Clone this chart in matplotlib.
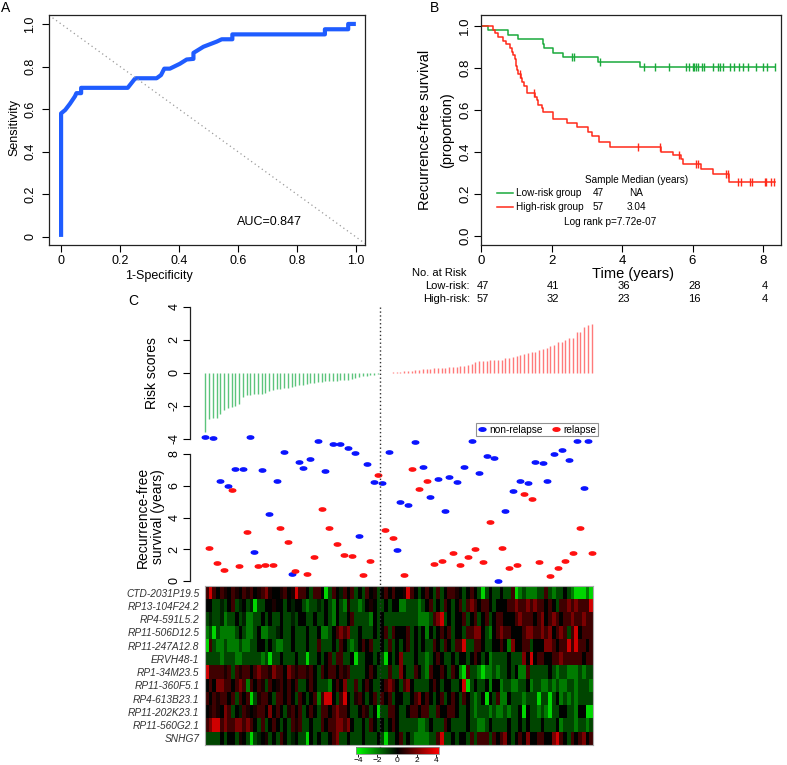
import numpy as np
import matplotlib
matplotlib.use('Agg')
import matplotlib.pyplot as plt
import matplotlib.transforms as mtransforms
from matplotlib.path import Path
from matplotlib.lines import Line2D
from matplotlib.colors import LinearSegmentedColormap, Normalize
from matplotlib.cm import ScalarMappable

plt.rcParams['font.family'] = ['Liberation Sans', 'DejaVu Sans']

# ---------------- data ----------------
# A : ROC
roc_fpr = [0, 0, 0.014, 0.03, 0.047, 0.052, 0.068, 0.068, 0.226, 0.25, 0.254, 0.324, 0.339, 0.35,
           0.369, 0.403, 0.426, 0.449, 0.449, 0.483, 0.528, 0.545, 0.581, 0.581, 0.895, 0.895,
           0.974, 0.974, 1.0]
roc_tpr = [0, 0.58, 0.596, 0.625, 0.66, 0.675, 0.675, 0.70, 0.70, 0.742, 0.745, 0.745, 0.76, 0.79,
           0.79, 0.813, 0.833, 0.836, 0.864, 0.893, 0.917, 0.928, 0.928, 0.951, 0.951, 0.975,
           0.975, 1.0, 1.0]
auc_txt = 'AUC=0.847'

# B : Kaplan-Meier
low_t = [0, 0.21, 0.78, 1.06, 1.75, 1.80, 2.03, 2.34, 3.33, 4.51]
low_s = [1.0, 0.979, 0.957, 0.936, 0.915, 0.894, 0.872, 0.851, 0.829, 0.806]
low_end = 8.34
low_cens = [2.57, 2.64, 3.38, 4.63, 4.94, 5.34, 5.82, 5.91, 6.0, 6.05, 6.1, 6.16, 6.26, 6.33,
            6.57, 6.71, 6.78, 6.86, 7.05, 7.19, 7.33, 7.44, 7.57, 7.8, 8.01, 8.1, 8.34]
high_t = [0, 0.33, 0.40, 0.47, 0.63, 0.71, 0.82, 0.87, 0.92, 0.97, 1.00, 1.02, 1.04, 1.13, 1.17,
          1.22, 1.30, 1.53, 1.58, 1.63, 1.72, 1.75, 2.05, 2.43, 2.71, 3.04, 3.14, 3.35, 3.66,
          5.12, 5.44, 5.67, 5.74, 6.24, 6.59, 7.04]
high_s = [1.0, 0.982, 0.965, 0.947, 0.93, 0.912, 0.895, 0.877, 0.86, 0.842, 0.807, 0.79, 0.772,
          0.754, 0.735, 0.716, 0.683, 0.663, 0.648, 0.625, 0.608, 0.59, 0.556, 0.537, 0.517,
          0.497, 0.476, 0.445, 0.425, 0.402, 0.386, 0.365, 0.343, 0.318, 0.295, 0.259]
high_end = 8.34
high_cens = [1.12, 1.5, 4.46, 5.08, 5.62, 6.1, 6.15, 6.95, 7.0, 7.28, 7.38, 7.62, 7.68,
             8.05, 8.09, 8.22, 8.3]
risk_times = [0, 2, 4, 6, 8]
risk_low = [47, 41, 36, 28, 4]
risk_high = [57, 32, 23, 16, 4]

# C : risk scores (47 low, 57 high)
score_low = [-3.55, -2.78, -2.75, -2.72, -2.5, -2.25, -2.15, -2.05, -2.0, -1.85, -1.45, -1.35,
             -1.33, -1.3, -1.28, -1.25, -1.2, -1.12, -1.05, -1.0, -0.95, -0.9, -0.88, -0.85,
             -0.8, -0.75, -0.7, -0.65, -0.6, -0.58, -0.55, -0.53, -0.5, -0.5, -0.48, -0.47,
             -0.45, -0.43, -0.4, -0.35, -0.28, -0.22, -0.2, -0.18, -0.15, -0.12, -0.08]
score_high = [0.01, 0.02, 0.02, 0.04, 0.06, 0.08, 0.1, 0.12, 0.14, 0.16, 0.18, 0.22, 0.24, 0.26,
              0.28, 0.3, 0.32, 0.33, 0.34, 0.36, 0.36, 0.4, 0.44, 0.48, 0.56, 0.68, 0.7, 0.72,
              0.74, 0.76, 0.76, 0.76, 0.78, 0.88, 0.9, 0.94, 1.0, 1.1, 1.14, 1.24, 1.28, 1.3,
              1.42, 1.46, 1.5, 1.64, 1.7, 1.86, 1.9, 1.98, 2.1, 2.14, 2.46, 2.5, 2.8, 2.88, 2.98]

rfs_years = [9.07, 2.08, 9.0, 1.14, 6.27, 0.72, 5.97, 5.74, 7.05, 0.97, 7.07, 3.07, 9.05, 1.85,
             0.93, 7.0, 1.03, 4.2, 1.01, 6.31, 3.37, 8.12, 2.46, 0.44, 0.61, 7.49, 7.09, 0.44,
             7.68, 1.54, 8.79, 4.52, 6.92, 3.37, 8.6, 2.33, 8.6, 1.66, 8.35, 1.6, 8.06, 2.84,
             0.38, 7.36, 1.28, 6.23, 6.65,
             6.16, 3.22, 8.12, 2.71, 1.96, 5.0, 0.36, 4.77, 7.07, 8.75, 5.78, 7.19, 6.29, 5.32,
             1.09, 6.41, 1.24, 4.44, 6.54, 1.77, 6.23, 1.03, 7.17, 1.54, 8.81, 2.02, 6.83, 1.2,
             7.89, 3.7, 7.72, 0.02, 2.1, 4.42, 0.8, 5.68, 1.03, 6.33, 5.49, 6.16, 5.15, 7.49,
             1.2, 7.43, 6.27, 0.29, 7.98, 0.84, 8.24, 1.24, 7.65, 1.77, 8.79, 3.35, 5.87, 8.83,
             1.79]
relapse = [0, 1, 0, 1, 0, 1, 0, 1, 0, 1, 0, 1, 0, 0, 1, 0, 1, 0, 1, 0, 1, 0, 1, 0, 1, 0, 0, 1,
           0, 1, 0, 1, 0, 1, 0, 1, 0, 1, 0, 1, 0, 0, 1, 0, 1, 0, 1,
           0, 1, 0, 1, 0, 0, 1, 0, 1, 0, 1, 0, 1, 0, 1, 0, 1, 0, 0, 1, 0, 1, 0, 1, 0, 1, 0, 1,
           0, 1, 0, 0, 1, 0, 1, 0, 1, 0, 1, 0, 1, 0, 1, 0, 0, 1, 0, 1, 0, 1, 0, 1, 0, 1, 0, 0,
           1]

genes = ['CTD-2031P19.5', 'RP13-104F24.2', 'RP4-591L5.2', 'RP11-506D12.5', 'RP11-247A12.8',
         'ERVH48-1', 'RP1-34M23.5', 'RP11-360F5.1', 'RP4-613B23.1', 'RP11-202K23.1',
         'RP11-560G2.1', 'SNHG7']
# expression levels read column by column (G bright green ... R bright red)
level = {'G': -3.5, 'g': -2.0, 'h': -1.1, 'k': -0.5, '0': 0.0, 'm': 0.5, 's': 1.1, 'r': 2.1, 'R': 3.5}
expr_rows = [
    "sRs0sm0sm0sms0msrm00ms0mRs" "s0hss0Ghs0ks0sh0hs0mh0s0s0" "0mRs0h0s0hsh0ssm0h0s0hGh0h" "h0hhsGghggghhshghh0hgGGGgG",
    "00hhkh0shk0hkGhh00m00h0k00" "hghhkh0hg0hgmhhgh0m0hh0h00" "gghhhgh0sh0hs0h0shsrs0ss0h" "000ssrssrsrss0s0hssrsrsssR",
    "hkhhkghh0hkgghh0h0hh0hhkh0" "0hh0hh0hg0hh0shhhhg0h0hhhh" "hhhhhggghsrRh0h00sh0sh0sh0" "ss000srsss0sr0srs0ssrssrss",
    "ghGhggggh0hggh0gghhk0hh0hh" "h0hh0ggh0srsrhh0hhh0h0shs0" "00sh0h0g0h0s0sh00hssrr0hg0" "srss000srrssrsr0srshsR0sss",
    "Gshgghggghgghh00h0hgghh0hh" "h0hhshhh0hs0hgh0s0shh0hsh0" "h0sh0h0hhs0hs0hssRhhss0hh0" "0s0gr00ssh000rrs0ssRsRss0s",
    "hhhhghhhgghhhhhghGhh0hhh0h" "hGhh0h0shsshh0Ghh00h0hG0h0" "rhhh0hhgh0s0hh0h00h0s0h0gh" "hhh0hhhr0R0ss00ssrsssss0ss",
    "Rssssmshsmss0srssmrss0rsms" "sms0hs0ss0smshhhh0s0hhhshh" "r0hhs0hgs00s0hs0gGshhgGggh" "ghh0h0ggshhhhh0hghhggghghh",
    "0s0rrss0srsgs0smhs0ms0s0sh" "h0s0hhhg0s0rhhsh0s0hh0srs0" "hsr0hhhh0s0h00hh0RGh0hh0g0" "0ghhgghh0ghhgghghgghhghhhg",
    "s0smss0shs0sGhmss0hss0s0hs" "0h0sgsRR0hsR0hms0h0shs0sh0" "0hh0sr0s0h0sh0s0hs0hgh0G0h" "sgg0hhhghhhGhhGh0ghghghhhh",
    "0msm0rsh0ksm0mss0r0s0hms0s" "h0s0hss0srss0hh0smh0Ghhss0" "hh0ss0sshhs00ss0hh0hghhhgh" "gghghh0G0hhghgGhh00hhg00GG",
    "srRRsrssrrsrs0hsh0s0h0hsms" "hh0hhs0ssrrsr0hh0hs0h0h0s0" "hhhhhggh0hhhs0hhhh0hhggh0h" "hhh0hh0h0hhh0hhh0ghhhghhgh",
    "hhhh0h00hm0hGhk0mh0hs0hk0h" "hG0h0hh0srhh0hhh0hhh0hGhh0" "sh0hgggghhsRhh0h00hshssshs" "0sr0h0s0r00ss00rRs0hs0sr0s",
]

# ---------------- figure ----------------
W, H = 787, 765
fig = plt.figure(figsize=(W / 100, H / 100), dpi=100)


def box(x0, y0, x1, y1):
    return [x0 / W, 1 - y1 / H, (x1 - x0) / W, (y1 - y0) / H]


def fx(x):
    return x / W


def fy(y):
    return 1 - y / H


def r_style(ax, rot_y=True):
    ax.tick_params(direction='out', length=5, width=0.8, labelsize=9, pad=2)
    for s in ax.spines.values():
        s.set_linewidth(0.9)
        s.set_color('#222222')
    if rot_y:
        for lab in ax.get_yticklabels():
            lab.set_rotation(90)
            lab.set_va('center')


# ---- A ----
axA = fig.add_axes(box(49, 15, 365, 245))
axA.plot(roc_fpr, roc_tpr, color='#1f5cff', lw=3, solid_joinstyle='round', solid_capstyle='butt')
axA.axline((0, 1), slope=-1, color='#9a9a9a', ls=(0, (1, 2.5)), lw=0.9)
axA.set_xlim(-0.041, 1.031)
axA.set_ylim(-0.038, 1.042)
axA.set_xticks([0, 0.2, 0.4, 0.6, 0.8, 1.0], ['0', '0.2', '0.4', '0.6', '0.8', '1.0'])
axA.set_yticks([0, 0.2, 0.4, 0.6, 0.8, 1.0], ['0', '0.2', '0.4', '0.6', '0.8', '1.0'])
r_style(axA)
axA.tick_params(axis='y', pad=4)
axA.text(0.597, 0.07, auc_txt, fontsize=9, va='center')
fig.text(fx(159), fy(276), '1-Specificity', fontsize=9, ha='center', va='center')
fig.text(fx(14), fy(128), 'Sensitivity', fontsize=9, ha='center', va='center', rotation=90)
fig.text(fx(1), fy(8), 'A', fontsize=10, va='center')

# ---- B ----
axB = fig.add_axes(box(481, 15, 781, 245))
green_km = '#1aaa3c'
red_km = '#ff2a1a'
axB.step(low_t + [low_end], low_s + [low_s[-1]], where='post', color=green_km, lw=1.1)
axB.step(high_t + [high_end], high_s + [high_s[-1]], where='post', color=red_km, lw=1.1)
for cens, tt, ss, col in [(low_cens, low_t, low_s, green_km), (high_cens, high_t, high_s, red_km)]:
    idx = np.searchsorted(tt, cens, side='right') - 1
    axB.plot(cens, np.array(ss)[idx], ls='none', marker='|', ms=6, mew=1.0, color=col)
axB.set_xlim(0, 8.51)
axB.set_ylim(-0.043, 1.052)
axB.set_xticks([0, 2, 4, 6, 8])
axB.set_yticks([0, 0.2, 0.4, 0.6, 0.8, 1.0], ['0.0', '0.2', '0.4', '0.6', '0.8', '1.0'])
r_style(axB)
axB.tick_params(labelsize=9.5)
for lab in axB.get_yticklabels():
    lab.set_rotation(90)
    lab.set_va('center')
# legend block
axB.text(4.42, 0.267, 'Sample Median (years)', fontsize=7.2, ha='center', va='center')
axB.plot([0.45, 0.91], [0.205, 0.205], color=green_km, lw=1.1)
axB.plot([0.45, 0.91], [0.138, 0.138], color=red_km, lw=1.1)
axB.text(0.99, 0.205, 'Low-risk group', fontsize=7.2, va='center')
axB.text(0.99, 0.138, 'High-risk group', fontsize=7.2, va='center')
axB.text(3.32, 0.205, '47', fontsize=7.2, va='center', ha='center')
axB.text(3.32, 0.138, '57', fontsize=7.2, va='center', ha='center')
axB.text(4.40, 0.205, 'NA', fontsize=7.2, va='center', ha='center')
axB.text(4.40, 0.138, '3.04', fontsize=7.2, va='center', ha='center')
axB.text(3.66, 0.067, 'Log rank p=7.72e-07', fontsize=7.2, va='center', ha='center')
fig.text(fx(425), fy(130), 'Recurrence-free survival', fontsize=10.5, ha='center', va='center', rotation=90)
fig.text(fx(447), fy(130), '(proportion)', fontsize=10.5, ha='center', va='center', rotation=90)
fig.text(fx(633), fy(274), 'Time (years)', fontsize=10.5, ha='center', va='center')
fig.text(fx(430), fy(8), 'B', fontsize=10, va='center')
# number at risk
trB = mtransforms.blended_transform_factory(axB.transData, fig.transFigure)
fig.text(fx(412), fy(273), 'No. at Risk', fontsize=8, va='center')
fig.text(fx(470), fy(286), 'Low-risk:', fontsize=8, va='center', ha='right')
fig.text(fx(470), fy(299), 'High-risk:', fontsize=8, va='center', ha='right')
for t, nl, nh in zip(risk_times, risk_low, risk_high):
    fig.text(t + 0.05, fy(286), str(nl), fontsize=8, va='center', ha='center', transform=trB)
    fig.text(t + 0.05, fy(299), str(nh), fontsize=8, va='center', ha='center', transform=trB)

# ---- C ----
n = len(score_low) + len(score_high)
xs = np.arange(n)
scores = score_low + score_high
bar_cols = ['#5cc47c'] * len(score_low) + ['#ff7a7a'] * len(score_high)
xlimC = (-4.12, n - 1 + 4.12)

axR = fig.add_axes(box(190, 307, 607, 439))
axR.vlines(xs, 0, scores, colors=bar_cols, lw=1.0)
axR.set_xlim(*xlimC)
axR.set_ylim(-4, 4)
axR.set_yticks([-4, -2, 0, 2, 4], ['-4', '-2', '0', '2', '4'])
axR.set_xticks([])
for s in ['top', 'right', 'bottom']:
    axR.spines[s].set_visible(False)
r_style(axR)
axR.patch.set_alpha(0)

axS = fig.add_axes(box(190, 454, 607, 581))
circ = Path.unit_circle()
ellipse = Path(circ.vertices * np.array([1.0, 0.5]), circ.codes)
rel = np.array(relapse)
yv = np.array(rfs_years)
axS.scatter(xs[rel == 0], yv[rel == 0], marker=ellipse, s=22, color='#0a14ff', clip_on=False, zorder=3)
axS.scatter(xs[rel == 1], yv[rel == 1], marker=ellipse, s=22, color='#ff1010', clip_on=False, zorder=3)
axS.set_xlim(*xlimC)
axS.set_ylim(0, 8)
axS.set_yticks([0, 2, 4, 6, 8], ['0', '2', '4', '6', '8'])
axS.set_xticks([])
for s in ['top', 'right', 'bottom']:
    axS.spines[s].set_visible(False)
r_style(axS)
axS.patch.set_alpha(0)
hdl = [Line2D([], [], ls='none', marker=ellipse, ms=5, color='#0a14ff'),
       Line2D([], [], ls='none', marker=ellipse, ms=5, color='#ff1010')]
leg = fig.legend(hdl, ['non-relapse', 'relapse'], loc='upper right', bbox_to_anchor=(fx(598), fy(423)),
                 ncol=2, fontsize=7.3, frameon=True, fancybox=False, borderpad=0.15, handlelength=1.0,
                 handletextpad=0.2, columnspacing=0.8, borderaxespad=0)
leg.get_frame().set_edgecolor('#777777')
leg.get_frame().set_linewidth(0.8)

fig.text(fx(152), fy(373), 'Risk scores', fontsize=10, ha='center', va='center', rotation=90)
fig.text(fx(143), fy(517), 'Recurrence-free', fontsize=10, ha='center', va='center', rotation=90)
fig.text(fx(158), fy(517), 'survival (years)', fontsize=10, ha='center', va='center', rotation=90)
fig.text(fx(128), fy(301), 'C', fontsize=10, va='center')

# heatmap
expr = np.array([[level[c] for c in row] for row in expr_rows])
cmap = LinearSegmentedColormap.from_list('gkr', ['#00ff00', '#000000', '#ff0000'])
norm = Normalize(-4.2, 4.3)
axH = fig.add_axes(box(205, 586, 593, 745))
axH.imshow(expr, aspect='auto', cmap=cmap, norm=norm, interpolation='nearest')
axH.set_xticks([])
axH.set_yticks(np.arange(len(genes)), genes)
axH.tick_params(axis='y', length=0, pad=4, labelsize=7.3)
for lab in axH.get_yticklabels():
    lab.set_fontstyle('italic')
    lab.set_color('#333333')
for s in axH.spines.values():
    s.set_color('#aaaaaa')
    s.set_linewidth(0.8)

# colour key
cax = fig.add_axes(box(356, 747, 439, 754))
cb = fig.colorbar(ScalarMappable(norm=norm, cmap=cmap), cax=cax, orientation='horizontal')
cb.set_ticks([-4, -2, 0, 2, 4])
cb.ax.tick_params(labelsize=6, length=2, width=0.6, pad=0.5)
cb.outline.set_edgecolor('#888888')
cb.outline.set_linewidth(0.6)

# dotted separator line through panel C
trC = mtransforms.blended_transform_factory(axR.transData, fig.transFigure)
fig.add_artist(Line2D([len(score_low) - 0.5] * 2, [fy(307), fy(747)], transform=trC,
                      color='#333333', ls=(0, (1, 1.8)), lw=1.0))

fig.savefig('out.png', dpi=100)
